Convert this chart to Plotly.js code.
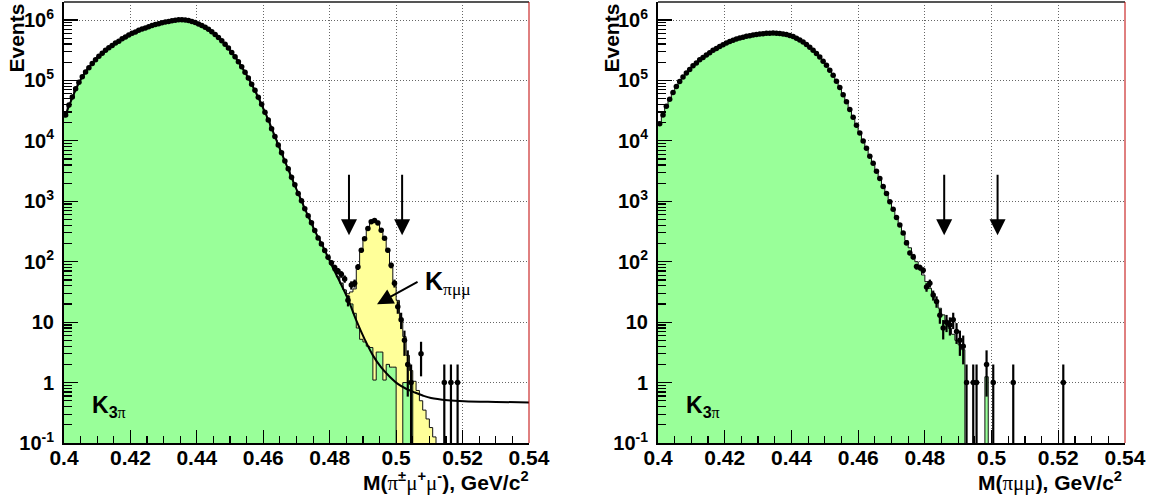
<!DOCTYPE html>
<html><head><meta charset="utf-8">
<script src="https://cdn.plot.ly/plotly-3.0.1.min.js"></script>
<style>html,body{margin:0;padding:0;background:#fff;}#chart{width:1152px;height:498px;}</style>
</head><body><div id="chart"></div>
<script>
// ---- binning ----
const binLow = 0.400, binWidth = 0.001, nBins = 140;

// ---- left panel: K3pi MC (green) ----
const leftMC = [
26900,38900,53700,72400,93300,114800,138000,162200,190500,218800,
251200,281800,316200,346700,380200,416900,446700,489800,524800,562300,
602600,631000,676100,707900,741300,776200,812800,841400,871000,901600,
926800,948400,970500,988600,1007000,1012000,1000000,977200,944100,905700,
861000,812800,758600,699800,638300,575400,512900,451900,398100,342800,
291700,245500,204200,167900,136500,109600,87100,68400,53100,40300,
29900,21900,16000,11750,8610,6310,4660,3430,2510,1850,
1360,1010,759,569,432,327,251,193,150,116,
90,71,56,44,34,27,20,14,8,5.2,
4.7,4.0,3.8,1.1,3.2,3.2,1.1,2.0,1.8,1.8,
0,0,1,1,1,0,0,0,0,0,
0,0,0,0,0,0,0,0,0,0,
0,0,0,0,0,0,0,0,0,0,
0,0,0,0,0,0,0,0,0,0];

// ---- left panel: K pi mu mu signal MC (yellow, stacked) ----
const leftSig = [
0,0,0,0,0,0,0,0,0,0, 0,0,0,0,0,0,0,0,0,0,
0,0,0,0,0,0,0,0,0,0, 0,0,0,0,0,0,0,0,0,0,
0,0,0,0,0,0,0,0,0,0, 0,0,0,0,0,0,0,0,0,0,
0,0,0,0,0,0,0,0,0,0, 0,0,0,0,0,0,0,0,0,0,
0,0,0,0,0,2.5,11.6,21.5,73,150,
240,351,433,467,465,344,256,153,79.5,45,
22.9,10.7,4.75,1.82,0.58,1.05,0.74,0.5,0.35,0.25,
0.18,0.126,0,0,0,0,0,0,0,0,
0,0,0,0,0,0,0,0,0,0, 0,0,0,0,0,0,0,0,0,0];

// ---- left panel: data ----
const leftData = [
26700,39200,53400,72800,93000,115300,137600,162800,190000,219500,
250600,282500,315700,347300,379600,417600,446100,490500,524200,563000,
601900,631700,675400,708600,740600,776900,812100,842200,870300,902400,
926100,949200,969800,989400,1006300,1012800,999300,978000,943400,906500,
860300,813600,757900,700600,637600,576100,512300,452600,397500,343400,
291200,246100,203700,168400,136100,110000,86800,68700,52900,40500,
29800,22050,15900,11830,8560,6350,4630,3460,2490,1870,
1350,1025,752,578,440,330,248,197,153,119,
96,80,70,62,52,23,41,44,82,155,
240,355,457,479,436,331,245,155,87,44,
18,11,5,2,1,0,0,3,0,0,
0,0,0,0,1,0,1,0,1,0,
0,0,0,0,0,0,0,0,0,0,
0,0,0,0,0,0,0,0,0,0];

// ---- left panel: fit curve ----
const fitX = [0.4005,0.4055,0.4105,0.4155,0.4205,0.4255,0.4305,0.4355,0.4405,0.4455,0.4505,0.4555,0.4605,0.4655,0.4705,0.4755,0.4780,0.4805,0.4830,0.4855,0.4880,0.4905,0.4930,0.4955,0.4980,0.5005,0.5030,0.5055,0.5080,0.5105,0.5155,0.5205,0.5300,0.5400];
const fitY = [26900,114800,251200,416900,602600,776200,926800,1012000,861000,575400,291700,109600,29900,6310,1360,327,178,90,47,24,10.7,5.25,2.82,1.78,1.26,0.95,0.79,0.69,0.61,0.555,0.51,0.49,0.478,0.47];

// ---- right panel: K3pi MC (green) ----
const rightMC = [
19050,26920,37150,48980,63100,79430,95500,114800,131800,151400,
173800,195000,218800,239900,263000,288400,316200,338800,363100,389000,
416900,441600,462400,484200,501200,518800,537000,549500,562300,575400,
588800,595700,602600,605300,606700,605300,599800,588800,575400,555900,
530900,501200,467700,431500,393600,354800,316200,278600,242700,208900,
177800,147900,121600,97700,75900,58200,44200,33100,24550,18200,
13490,10000,7500,5620,4220,3160,2370,1780,1330,989,
733,543,403,299,224,170,132,100,77.6,60.3,
46.8,36.3,28.2,21.9,17.0,13.2,10.2,7.9,6.3,5.0,
4.2,3.5,0,0,0,0,0,0,1.25,0,
0,0,0,0,0,0,0,0,0,0, 0,0,0,0,0,0,0,0,0,0,
0,0,0,0,0,0,0,0,0,0, 0,0,0,0,0,0,0,0,0,0];

// ---- right panel: data ----
const rightData = [
19200,26700,37400,48700,63400,79100,95800,114400,132300,151000,
174300,194500,219400,239300,263700,287800,316900,338200,363800,388400,
417600,441000,463100,483600,501900,518200,537700,548900,563000,574800,
589500,595100,603300,604700,607400,604600,600500,588100,576100,555200,
531600,500500,468400,430800,394200,354200,316800,278100,243200,208400,
178300,147500,122000,97300,76200,57900,44400,32900,24700,18100,
13550,9950,7540,5590,4250,3140,2390,1760,1345,980,
740,540,405,300,205,140,120,83,80,72,
38,44,28,22,13,8,10,9,11,7,
5,4,1,0,1,1,0,0,2,0,
1,0,0,0,0,0,1,0,0,0,
0,0,0,0,0,0,0,0,0,0,
0,1,0,0,0,0,0,0,0,0,
0,0,0,0,0,0,0,0,0,0];

// ---- axis tick labels ----
const xTickVals = [0.4,0.42,0.44,0.46,0.48,0.5,0.52,0.54];
const xTickText = ['0.4','0.42','0.44','0.46','0.48','0.5','0.52','0.54'];
const yTickVals = [0.1,1,10,100,1000,10000,100000,1000000];
const yTickText = ['10<sup>-1</sup>','1','10','10<sup>2</sup>','10<sup>3</sup>','10<sup>4</sup>','10<sup>5</sup>','10<sup>6</sup>'];

// ---- helpers ----
const FLOOR = 1e-4;
function stepXY(vals){
  const x=[], y=[];
  for(let i=0;i<nBins;i++){ x.push(binLow+i*binWidth); y.push(vals[i]>0?vals[i]:FLOOR); }
  x.push(binLow+nBins*binWidth); y.push(vals[nBins-1]>0?vals[nBins-1]:FLOOR);
  return {x,y};
}
function dataXY(vals){
  const x=[], y=[], e=[];
  for(let i=0;i<nBins;i++){
    if(vals[i]>0){ x.push(binLow+(i+0.5)*binWidth); y.push(vals[i]); e.push(Math.sqrt(vals[i])); }
  }
  return {x,y,e};
}
const FONT = 'Liberation Sans, Arial, Helvetica, sans-serif';
const GREEN = '#99ff99', YELLOW = '#ffff99';

const leftTotal = leftMC.map((v,i)=>v+leftSig[i]);
const sTot = stepXY(leftTotal), sL = stepXY(leftMC), sR = stepXY(rightMC);
const dL = dataXY(leftData), dR = dataXY(rightData);

function fillTrace(s, color, xa, ya){
  return {x:s.x, y:s.y, type:'scatter', mode:'lines', line:{shape:'hv', color:'#111', width:1},
    fill:'tozeroy', fillcolor:color, xaxis:xa, yaxis:ya, hoverinfo:'skip', showlegend:false};
}
function dataTrace(d, xa, ya){
  return {x:d.x, y:d.y, type:'scatter', mode:'markers', marker:{color:'#000', size:5.5},
    error_y:{type:'data', array:d.e, arrayminus:d.e, symmetric:false, color:'#000', thickness:2.2, width:0},
    xaxis:xa, yaxis:ya, hoverinfo:'skip', showlegend:false};
}

const traces = [
  fillTrace(sTot, YELLOW, 'x', 'y'),
  fillTrace(sL, GREEN, 'x', 'y'),
  {x:fitX, y:fitY, type:'scatter', mode:'lines', line:{color:'#000', width:2, shape:'spline', smoothing:1},
   xaxis:'x', yaxis:'y', hoverinfo:'skip', showlegend:false},
  dataTrace(dL, 'x', 'y'),
  fillTrace(sR, GREEN, 'x2', 'y2'),
  dataTrace(dR, 'x2', 'y2')
];

// minor log ticks
const yMinor = [];
for(let d=-1; d<=6; d++){ for(let k=2;k<=9;k++){ const v=k*Math.pow(10,d); if(v<2e6) yMinor.push(v); } }

const W=1152, H=498;
const yDom = [55/H, 496/H];
function xAxis(dom, anchor){
  return {domain:dom, anchor:anchor, range:[0.4,0.54], tickmode:'array', tickvals:xTickVals, ticktext:xTickText,
    ticks:'inside', ticklen:13, tickwidth:1.2, tickcolor:'#000',
    minor:{tickmode:'linear', tick0:0.4, dtick:0.005, ticks:'inside', ticklen:7, tickwidth:1.2, tickcolor:'#000', showgrid:false},
    showgrid:true, gridcolor:'#666', griddash:'1px,2px', gridwidth:1,
    showline:true, linecolor:'#000', linewidth:2, zeroline:false,
    tickfont:{family:FONT, size:21, weight:'bold', color:'#000'}, ticklabelstandoff:-5};
}
function yAxis(anchor){
  return {domain:yDom, anchor:anchor, type:'log', range:[-1, 6.298], tickmode:'array', tickvals:yTickVals, ticktext:yTickText,
    ticks:'inside', ticklen:14, tickwidth:1.2, tickcolor:'#000',
    minor:{tickmode:'array', tickvals:yMinor, ticks:'inside', ticklen:8, tickwidth:1.2, tickcolor:'#000', showgrid:false},
    showgrid:true, gridcolor:'#666', griddash:'1px,2px', gridwidth:1,
    showline:true, linecolor:'#000', linewidth:2, zeroline:false,
    tickfont:{family:FONT, size:20, weight:'bold', color:'#000'}, ticklabelstandoff:4};
}

const gr = "<span style=\"font-family:'Liberation Serif';font-weight:normal\">";
const LX0=64/W, LX1=529/W, RX0=658/W, RX1=1125/W;
const arrowCommon = {showarrow:true, arrowhead:2, arrowsize:1.6, arrowwidth:2, arrowcolor:'#000', text:'', ax:0, ay:-62};
const cuts = [0.4858, 0.5018];
const TF = {family:FONT, size:21, weight:'bold', color:'#000'};
const annotations = [
  {xref:'paper', yref:'paper', x:16/W, y:1-2/H, xanchor:'center', yanchor:'top', textangle:-90, text:'Events', showarrow:false, font:TF},
  {xref:'paper', yref:'paper', x:611/W, y:1-2/H, xanchor:'center', yanchor:'top', textangle:-90, text:'Events', showarrow:false, font:TF},
  {xref:'paper', yref:'paper', x:531/W, y:1-481/H, xanchor:'right', yanchor:'middle', showarrow:false,
   text:'M('+gr+'π</span><sup>±</sup>'+gr+'μ</span><sup>+</sup>'+gr+'μ</span><sup>-</sup>), GeV/c<sup>2</sup>', font:TF},
  {xref:'paper', yref:'paper', x:1124/W, y:1-481/H, xanchor:'right', yanchor:'middle', showarrow:false,
   text:'M('+gr+'πμμ</span>), GeV/c<sup>2</sup>', font:TF},
  {xref:'x', yref:'y', x:0.4078, y:-0.40, xanchor:'left', yanchor:'middle', showarrow:false, text:'K<sub>3'+gr+'π</span></sub>', font:{family:FONT, size:23, weight:'bold', color:'#000'}},
  {xref:'x2', yref:'y2', x:0.4078, y:-0.40, xanchor:'left', yanchor:'middle', showarrow:false, text:'K<sub>3'+gr+'π</span></sub>', font:{family:FONT, size:23, weight:'bold', color:'#000'}},
  {xref:'x', yref:'y', x:0.5080, y:1.64, xanchor:'left', yanchor:'middle', showarrow:false, text:'K<sub>'+gr+'πμμ</span></sub>', font:{family:FONT, size:25, weight:'bold', color:'#000'}},
  Object.assign({}, arrowCommon, {xref:'x', yref:'y', x:0.49425, y:1.298, ax:42, ay:-23}),
  Object.assign({}, arrowCommon, {xref:'x', yref:'y', x:cuts[0], y:2.44}),
  Object.assign({}, arrowCommon, {xref:'x', yref:'y', x:cuts[1], y:2.44}),
  Object.assign({}, arrowCommon, {xref:'x2', yref:'y2', x:cuts[0], y:2.44}),
  Object.assign({}, arrowCommon, {xref:'x2', yref:'y2', x:cuts[1], y:2.44})
];
const shapes = [
  {type:'line', xref:'paper', yref:'paper', x0:LX0, x1:LX1, y0:yDom[1], y1:yDom[1], line:{color:'#555', width:2}},
  {type:'line', xref:'paper', yref:'paper', x0:RX0, x1:RX1, y0:yDom[1], y1:yDom[1], line:{color:'#555', width:2}},
  {type:'line', xref:'paper', yref:'paper', x0:LX1, x1:LX1, y0:yDom[0], y1:yDom[1], line:{color:'#c00000', width:1}},
  {type:'line', xref:'paper', yref:'paper', x0:RX1, x1:RX1, y0:yDom[0], y1:yDom[1], line:{color:'#c00000', width:1}}
];

const layout = {
  width:W, height:H, margin:{l:0,r:0,t:0,b:0}, paper_bgcolor:'#fff', plot_bgcolor:'#fff',
  showlegend:false, font:{family:FONT, color:'#000'},
  xaxis:xAxis([LX0,LX1],'y'), yaxis:yAxis('x'),
  xaxis2:xAxis([RX0,RX1],'y2'), yaxis2:yAxis('x2'),
  annotations:annotations, shapes:shapes
};
Plotly.newPlot('chart', traces, layout, {staticPlot:true, displayModeBar:false});
</script>
</body></html>
